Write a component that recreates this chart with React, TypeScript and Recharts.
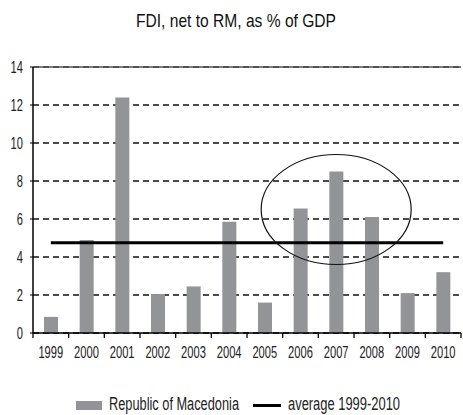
import React from "react";
import {
  ComposedChart,
  Bar,
  Line,
  XAxis,
  YAxis,
  CartesianGrid,
  ReferenceDot,
  ReferenceLine,
  Legend,
} from "recharts";

const years = ["1999", "2000", "2001", "2002", "2003", "2004", "2005", "2006", "2007", "2008", "2009", "2010"];
const fdiShare = [0.85, 4.9, 12.4, 2.05, 2.45, 5.85, 1.6, 6.55, 8.5, 6.1, 2.1, 3.2];
const average = [4.75, 4.75, 4.75, 4.75, 4.75, 4.75, 4.75, 4.75, 4.75, 4.75, 4.75, 4.75];
const yTicks = [0, 2, 4, 6, 8, 10, 12, 14];

const data = years.map((year, i) => ({ year, fdi: fdiShare[i], average: average[i] }));

// no condensed face is installed, so text is squeezed with textLength
const FONT = '"Liberation Sans", Arial, sans-serif';
const DIGIT_W = 6.2;
const W = 463;
const H = 415;
const margin = { top: 67, right: 2, left: 0, bottom: 52 };
const Y_AXIS_W = 33;
const HALF_BAND = (W - margin.left - margin.right - Y_AXIS_W) / years.length / 2;

function YearTick(props: any) {
  const { x, y, payload, index } = props;
  return (
    <g>
      <line x1={x - HALF_BAND} x2={x - HALF_BAND} y1={y} y2={y + 5} stroke="#000" strokeWidth={1.3} />
      {index === years.length - 1 && (
        <line x1={x + HALF_BAND} x2={x + HALF_BAND} y1={y} y2={y + 5} stroke="#000" strokeWidth={1.3} />
      )}
      <text
        x={x}
        y={y + 24.5}
        textAnchor="middle"
        fontSize={17}
        fill="#222"
        fontFamily={FONT}
        textLength={DIGIT_W * 4}
        lengthAdjust="spacingAndGlyphs"
      >
        {payload.value}
      </text>
    </g>
  );
}

function ValueTick(props: any) {
  const { x, y, payload } = props;
  const label = String(payload.value);
  return (
    <text
      x={x}
      y={y + 6}
      textAnchor="end"
      fontSize={17}
      fill="#222"
      fontFamily={FONT}
      textLength={DIGIT_W * label.length}
      lengthAdjust="spacingAndGlyphs"
    >
      {label}
    </text>
  );
}

const LABEL_W: Record<string, number> = {
  "Republic of Macedonia": 130,
  "average 1999-2010": 112,
};

function LegendContent(props: any) {
  const items = props.payload ?? [];
  return (
    <div style={{ display: "flex", justifyContent: "center", alignItems: "center", gap: 11 }}>
      {items.map((it: any) => {
        const w = LABEL_W[it.value] ?? 100;
        return (
          <div key={it.value} style={{ display: "flex", alignItems: "center", gap: 6 }}>
            {it.type === "line" ? (
              <span style={{ display: "inline-block", width: 28, height: 3, background: "#000" }} />
            ) : (
              <span style={{ display: "inline-block", width: 26, height: 9, background: it.color }} />
            )}
            <svg width={w + 4} height={22} style={{ display: "block", overflow: "visible" }}>
              <text
                x={1}
                y={16}
                fontSize={18}
                fill="#222"
                fontFamily={FONT}
                textLength={w}
                lengthAdjust="spacingAndGlyphs"
              >
                {it.value}
              </text>
            </svg>
          </div>
        );
      })}
    </div>
  );
}

export default function App() {
  return (
    <div style={{ position: "absolute", left: 0, top: 0, width: W, height: H, background: "#fff" }}>
      <svg width={W} height={40} style={{ position: "absolute", left: 0, top: 0 }}>
        <text
          x={236}
          y={26.5}
          textAnchor="middle"
          fontSize={18.5}
          fill="#111"
          fontFamily={FONT}
          textLength={200}
          lengthAdjust="spacingAndGlyphs"
        >
          FDI, net to RM, as % of GDP
        </text>
      </svg>
      <ComposedChart width={W} height={H} data={data} margin={margin}>
        <CartesianGrid vertical={false} stroke="#111" strokeDasharray="6 4" strokeWidth={1.3} />
        <XAxis
          dataKey="year"
          interval={0}
          tickLine={false}
          tickSize={0}
          tickMargin={0}
          height={30}
          axisLine={{ stroke: "#000", strokeWidth: 1.5 }}
          tick={<YearTick />}
        />
        <YAxis
          domain={[0, 14]}
          ticks={yTicks}
          interval={0}
          width={Y_AXIS_W}
          tickSize={3}
          tickMargin={7}
          axisLine={{ stroke: "#000", strokeWidth: 1.5 }}
          tickLine={{ stroke: "#000" }}
          tick={<ValueTick />}
        />
        <YAxis
          yAxisId="frame"
          orientation="right"
          domain={[0, 14]}
          width={0}
          tick={false}
          tickLine={false}
          axisLine={{ stroke: "#555", strokeWidth: 1.5 }}
        />
        <ReferenceLine y={14} stroke="#555" strokeWidth={1.5} />
        <Bar dataKey="fdi" name="Republic of Macedonia" fill="#939498" barSize={14} isAnimationActive={false} legendType="rect" />
        <Line
          dataKey="average"
          name="average 1999-2010"
          stroke="#000"
          strokeWidth={3}
          dot={false}
          activeDot={false}
          legendType="line"
          isAnimationActive={false}
        />
        <ReferenceDot
          x="2007"
          y={6.5}
          ifOverflow="visible"
          shape={(p: any) => (
            <ellipse cx={p.cx} cy={p.cy} rx={75} ry={55} fill="none" stroke="#111" strokeWidth={1.2} />
          )}
        />
        <Legend
          layout="horizontal"
          verticalAlign="middle"
          align="center"
          content={<LegendContent />}
          wrapperStyle={{ top: 394, left: 8, width: W }}
        />
      </ComposedChart>
    </div>
  );
}
